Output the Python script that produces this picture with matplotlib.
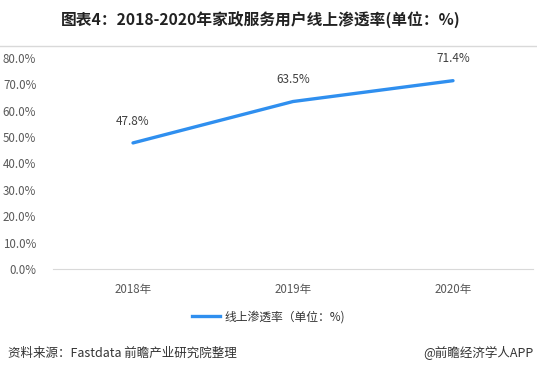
import matplotlib
matplotlib.use("Agg")
from matplotlib import pyplot as plt
from matplotlib.lines import Line2D

plt.rcParams['font.family'] = ['Noto Sans CJK SC', 'DejaVu Sans']

years = ["2018年", "2019年", "2020年"]
rates = [47.8, 63.5, 71.4]
yticks = [0, 10, 20, 30, 40, 50, 60, 70, 80]
title = "图表4：2018-2020年家政服务用户线上渗透率(单位：%)"
series_name = "线上渗透率（单位：%)"
source = "资料来源：Fastdata 前瞻产业研究院整理"
brand = "@前瞻经济学人APP"

blue = "#2F8FEF"
W, H = 537, 373
fig = plt.figure(figsize=(W / 100, H / 100), dpi=100)
ax = fig.add_axes([53 / W, 104 / H, 480 / W, 211 / H])

x = range(len(years))
ax.plot(x, rates, color=blue, lw=2.4, solid_capstyle='round')
for xi, v in zip(x, rates):
    ax.annotate(f"{v:.1f}%", (xi, v), xytext=(0, 11), textcoords='offset points',
                ha='center', va='bottom', fontsize=8.5, color='#404040')

ax.set_xlim(-0.5, 2.5)
ax.set_ylim(0, 80)
ax.set_yticks(yticks)
ax.set_yticklabels([f"{t:.1f}%" for t in yticks], fontsize=8.3, color='#595959')
ax.set_xticks(list(x))
ax.set_xticklabels(years, fontsize=8.3, color='#595959')
ax.tick_params(axis='both', length=0)
ax.tick_params(axis='x', pad=10)
ax.tick_params(axis='y', pad=12)
for s in ['top', 'right', 'left']:
    ax.spines[s].set_visible(False)
ax.spines['bottom'].set_color('#d9d9d9')

fig.text(0.5 - 8 / W, 1 - 20 / H, title, ha='center', va='center', fontsize=11.3,
         fontweight='bold', color='#222222')
fig.add_artist(Line2D([0, 1], [1 - 46 / H, 1 - 46 / H], color='#d9d9d9', lw=1))

handle = Line2D([], [], color=blue, lw=2.4)
fig.legend([handle], [series_name], loc='center', bbox_to_anchor=(0.5, 1 - 317 / H),
           frameon=False, fontsize=8.5, handlelength=2.4, handletextpad=0.4,
           labelcolor='#333333')

fig.text(8 / W, 1 - 353 / H, source, ha='left', va='center', fontsize=9, color='#333333')
fig.text(1 - 4 / W, 1 - 353 / H, brand, ha='right', va='center', fontsize=9, color='#333333')

fig.savefig("out.png", dpi=100)
